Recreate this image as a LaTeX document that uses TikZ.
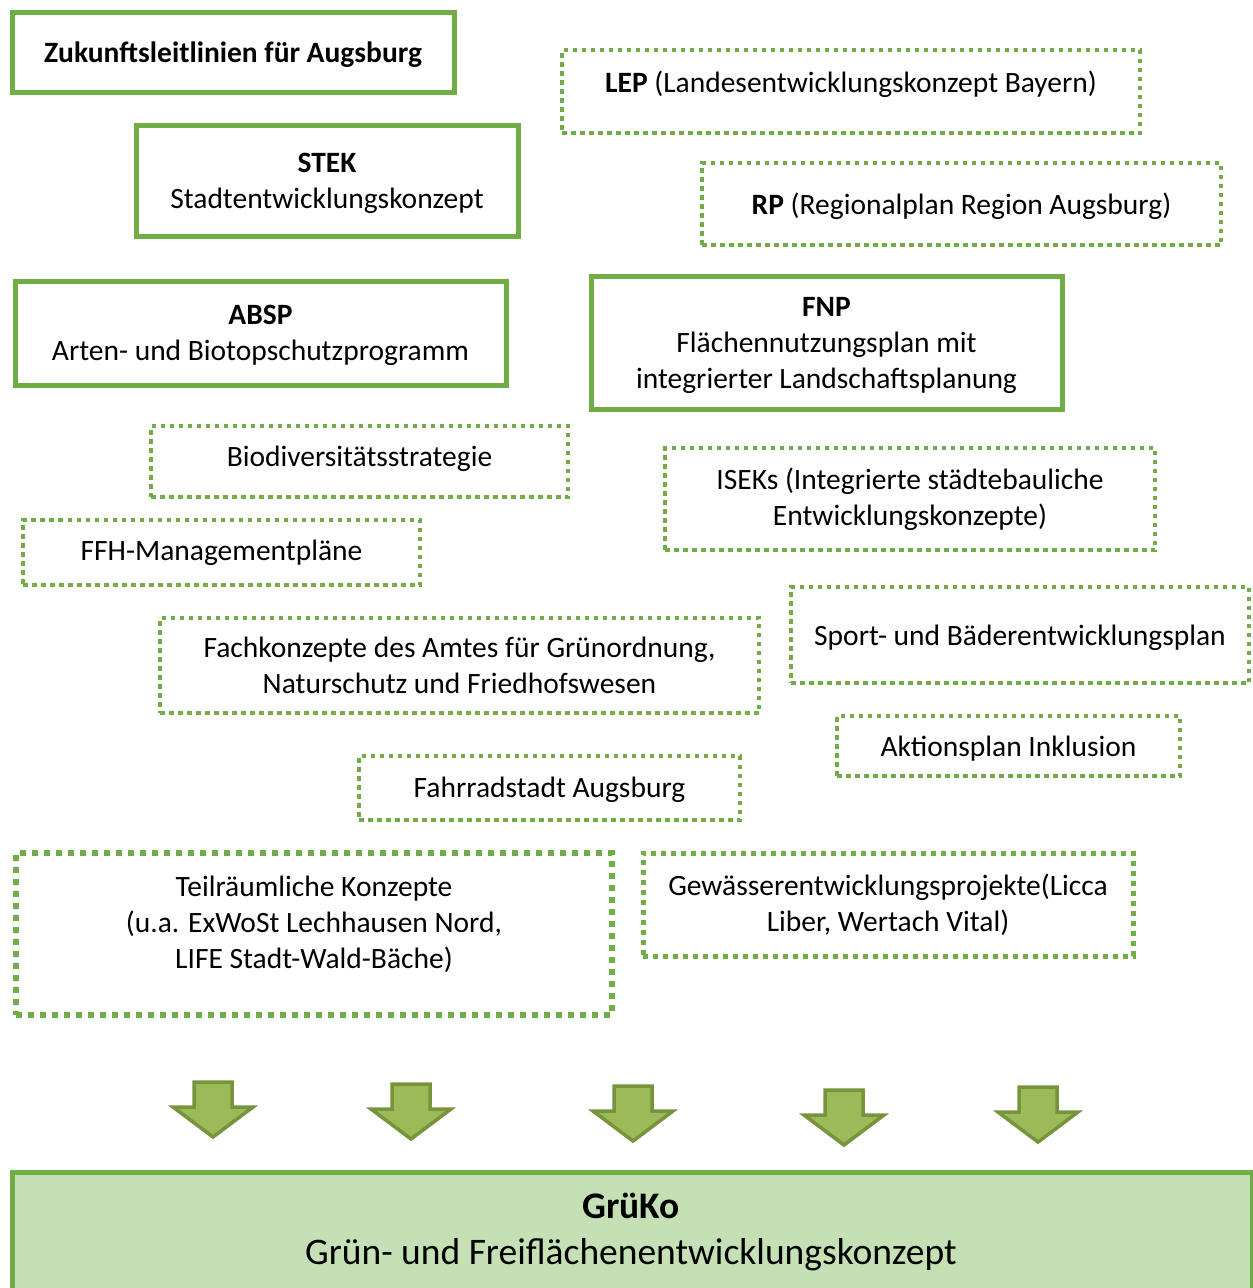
\documentclass[tikz,border=0pt]{standalone}
\usepackage{fontspec}
\setmainfont{Carlito}
\definecolor{gborder}{HTML}{70AD47}
\definecolor{gfill}{HTML}{C5E0B4}
\definecolor{afill}{HTML}{9BBB59}
\definecolor{aedge}{HTML}{77933C}
\begin{document}
\begin{tikzpicture}[x=1pt,y=-1pt,
  every node/.style={font=\fontsize{29.5}{36}\selectfont, align=center, inner sep=0pt},
  sbox/.style={draw=gborder, line width=5pt, rectangle, text depth=0pt},
  dbox/.style={draw=gborder, line width=#1, dash pattern=on #1 off #1, rectangle},
  dbox/.default=4.5pt,
  low/.style={text depth=0pt},
  harrow/.style={fill=afill, draw=aedge, line width=3.5pt, line join=miter}]
\useasboundingbox (0,0) rectangle (1253,1288);
% solid boxes
\node[sbox, minimum width=442, minimum height=80, text depth=-2pt] (zuk) at (233,52) {\textbf{Zukunftsleitlinien für Augsburg}};
\node[sbox, minimum width=382, minimum height=111] (stek) at (327,180.5) {\textbf{STEK}\\Stadtentwicklungskonzept};
\node[sbox, minimum width=491, minimum height=104] (absp) at (260.5,333) {\textbf{ABSP}\\Arten- und Biotopschutzprogramm};
\node[sbox, minimum width=471, minimum height=133] (fnp) at (826.5,342.5) {\textbf{FNP}\\Flächennutzungsplan mit\\integrierter Landschaftsplanung};
% dotted boxes
\node[dbox, minimum width=578, minimum height=83, text depth=20pt] (lep) at (851,91.5) {\textbf{LEP} (Landesentwicklungskonzept Bayern)};
\node[dbox, low, minimum width=519, minimum height=82] (rp) at (961.5,204) {\textbf{RP} (Regionalplan Region Augsburg)};
\node[dbox, minimum width=417, minimum height=71, text depth=10pt] (bio) at (359.5,461.5) {Biodiversitätsstrategie};
\node[dbox, minimum width=490, minimum height=102] (isek) at (910,499) {ISEKs (Integrierte städtebauliche\\Entwicklungskonzepte)};
\node[dbox, minimum width=397, minimum height=65, text depth=4pt] (ffh) at (221.5,552.5) {FFH-Managementpläne};
\node[dbox, minimum width=599, minimum height=95, text depth=-2pt] (fach) at (459.5,665.5) {Fachkonzepte des Amtes für Grünordnung,\\Naturschutz und Friedhofswesen};
\node[dbox, low, minimum width=458, minimum height=96] (sport) at (1020,635) {Sport- und Bäderentwicklungsplan};
\node[dbox, low, minimum width=343, minimum height=60] (akt) at (1008.5,746) {Aktionsplan Inklusion};
\node[dbox, minimum width=381, minimum height=64, text depth=1pt] (fahr) at (549.5,788) {Fahrradstadt Augsburg};
\node[dbox=6pt, minimum width=596, minimum height=162, text depth=24pt] (teil) at (314,934) {Teilräumliche Konzepte\\(u.a. ExWoSt Lechhausen Nord,\\LIFE Stadt-Wald-Bäche)};
\node[dbox=5pt, minimum width=490, minimum height=103] (gew) at (888,904.5) {Gewässerentwicklungsprojekte(Licca\\Liber, Wertach Vital)};
% arrows
\foreach \cx/\ty [count=\i] in {213/1082, 411/1084, 633/1086, 844/1090, 1038/1087}{
  \draw[harrow] (\cx-19,\ty) -- (\cx+19,\ty) -- (\cx+19,\ty+25) -- (\cx+40,\ty+25)
    -- (\cx,\ty+55) -- (\cx-40,\ty+25) -- (\cx-19,\ty+25) -- cycle;
}
% bottom box
\node[draw=gborder, fill=gfill, line width=5pt, minimum width=1240, minimum height=140,
  anchor=north west] (gruko) at (10,1169.5) {};
\node[font=\fontsize{37.5}{46}\selectfont] (grukot) at (631,1232.5) {\textbf{GrüKo}\\Grün- und Freiflächenentwicklungskonzept};
\end{tikzpicture}
\end{document}
